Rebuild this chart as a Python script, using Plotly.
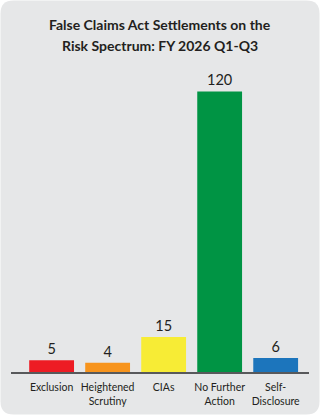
import plotly.graph_objects as go

categories = ["Exclusion", "Heightened Scrutiny", "CIAs", "No Further Action", "Self-Disclosure"]
values = [5, 4, 15, 120, 6]
tick_labels = ["Exclusion", "Heightened<br>Scrutiny", "CIAs", "No Further<br>Action", "Self-<br>Disclosure"]
bar_colors = ["#ed1c24", "#f7941d", "#f7ec35", "#009444", "#1c75bc"]
title_lines = ["False Claims Act Settlements on the", "Risk Spectrum: FY 2026 Q1-Q3"]

W, Hc = 320, 415
ml, mr, mt, mb = 11, 11, 68, 43
pw = W - ml - mr
ph = Hc - mt - mb

def px(x):
    return (x - ml) / pw

def py(y):
    return (Hc - mb - y) / ph

# rounded panel path in paper coords
x0, x1, y0, y1, r = 0.5, 319.5, 0.5, 414.5, 13
pts = [
    f"M {px(x0 + r)},{py(y0)}",
    f"L {px(x1 - r)},{py(y0)}",
    f"Q {px(x1)},{py(y0)} {px(x1)},{py(y0 + r)}",
    f"L {px(x1)},{py(y1 - r)}",
    f"Q {px(x1)},{py(y1)} {px(x1 - r)},{py(y1)}",
    f"L {px(x0 + r)},{py(y1)}",
    f"Q {px(x0)},{py(y1)} {px(x0)},{py(y1 - r)}",
    f"L {px(x0)},{py(y0 + r)}",
    f"Q {px(x0)},{py(y0)} {px(x0 + r)},{py(y0)} Z",
]
panel_path = " ".join(pts)

fig = go.Figure(
    go.Bar(
        x=categories,
        y=values,
        marker=dict(color=bar_colors, line=dict(width=0)),
        text=[str(v) for v in values],
        textposition="outside",
        textfont=dict(family="Lato", size=14.5, color="#231f20"),
        cliponaxis=False,
        hoverinfo="skip",
    )
)

fig.update_layout(
    width=W,
    height=Hc,
    margin=dict(l=ml, r=mr, t=mt, b=mb, pad=0, autoexpand=False),
    paper_bgcolor="#ffffff",
    plot_bgcolor="rgba(0,0,0,0)",
    showlegend=False,
    bargap=0.2,
    font=dict(family="Lato", color="#231f20"),
    shapes=[
        dict(type="path", xref="paper", yref="paper", path=panel_path,
             fillcolor="#e6e7e8", line=dict(width=0), layer="below")
    ],
    annotations=[
        dict(text=title_lines[0], xref="paper", yref="paper", x=px(160), y=py(24),
             xanchor="center", yanchor="middle", showarrow=False,
             font=dict(family="Lato", size=14, color="#231f20", weight="bold")),
        dict(text=title_lines[1], xref="paper", yref="paper", x=px(160), y=py(45),
             xanchor="center", yanchor="middle", showarrow=False,
             font=dict(family="Lato", size=14, color="#231f20", weight="bold")),
    ],
)

fig.update_xaxes(
    range=[-0.725, 4.595],
    tickmode="array",
    tickvals=categories,
    ticktext=tick_labels,
    showline=True,
    linecolor="#58595b",
    linewidth=1.5,
    ticks="",
    showgrid=False,
    zeroline=False,
    automargin=False,
    tickfont=dict(family="Lato", size=10.5, color="#231f20"),
    ticklabelstandoff=5,
    fixedrange=True,
)
fig.update_yaxes(range=[0, 130], visible=False, fixedrange=True, automargin=False)

fig.write_html("out.html", config={"displayModeBar": False})
